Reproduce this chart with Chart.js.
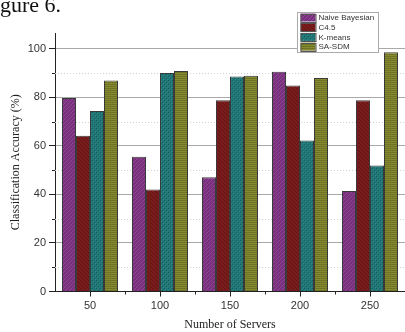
<!DOCTYPE html>
<html>
<head>
<meta charset="utf-8">
<script src="https://cdn.jsdelivr.net/npm/chart.js@4/dist/chart.umd.min.js"></script>
<style>
  html, body { margin: 0; padding: 0; background: #fff; }
  #wrap { position: relative; width: 405px; height: 332px; overflow: hidden; }
  #cap { position: absolute; left: 0; top: -8px; font: 22px "Liberation Serif", "Times New Roman", serif; color: #111; white-space: nowrap; }
  canvas { position: absolute; left: 0; top: 0; }
</style>
</head>
<body>
<div id="wrap">
  <canvas id="c" width="405" height="332"></canvas>
  <div id="cap">gure 6.</div>
</div>
<script>
// Classification accuracy per method and server count
const servers = ['50', '100', '150', '200', '250'];
const methods = ['Naive Bayesian', 'C4.5', 'K-means', 'SA-SDM'];
const naiveBayesian = [79.7, 55.5, 47.1, 90.5, 41.4];
const c45 = [64.2, 42.0, 78.8, 84.9, 78.8];
const kMeans = [74.4, 90.0, 88.6, 62.2, 51.9];
const saSdm = [86.9, 90.8, 88.9, 88.0, 98.6];
const yTicks = [0, 20, 40, 60, 80, 100];
const yMinorTicks = [10, 30, 50, 70, 90];

// Hatched fills for the four bar series
function makePattern(base, kind) {
  const p = document.createElement('canvas');
  const s = kind === 'h' ? 2 : 4;
  p.width = s; p.height = s;
  const g = p.getContext('2d');
  g.fillStyle = base;
  g.fillRect(0, 0, s, s);
  if (kind === 'fwd') {
    g.strokeStyle = 'rgba(255,255,255,0.13)';
    g.lineWidth = 1;
    g.beginPath();
    g.moveTo(0, s); g.lineTo(s, 0);
    g.moveTo(-1, 1); g.lineTo(1, -1);
    g.moveTo(s - 1, s + 1); g.lineTo(s + 1, s - 1);
    g.stroke();
  } else if (kind === 'back') {
    g.strokeStyle = 'rgba(0,0,0,0.22)';
    g.lineWidth = 1;
    g.beginPath();
    g.moveTo(0, 0); g.lineTo(s, s);
    g.moveTo(-1, s - 1); g.lineTo(1, s + 1);
    g.moveTo(s - 1, -1); g.lineTo(s + 1, 1);
    g.stroke();
  } else if (kind === 'dots') {
    g.fillStyle = 'rgba(0,0,0,0.25)';
    g.fillRect(0, 0, 1, 1);
    g.fillRect(2, 2, 1, 1);
    g.fillStyle = 'rgba(255,255,255,0.10)';
    g.fillRect(1, 1, 1, 1);
    g.fillRect(3, 3, 1, 1);
  } else if (kind === 'h') {
    g.fillStyle = 'rgba(0,0,0,0.18)';
    g.fillRect(0, 0, s, 1);
  }
  return g.createPattern(p, 'repeat');
}

const fills = [
  makePattern('#7a2f7f', 'fwd'),
  makePattern('#7a1c1c', 'back'),
  makePattern('#1f7777', 'dots'),
  makePattern('#878b30', 'h')
];
const series = [naiveBayesian, c45, kMeans, saSdm];

// Dotted minor grid, minor tick marks and the boxed legend
const extras = {
  id: 'extras',
  beforeDatasetsDraw(chart) {
    const { ctx, chartArea: a, scales: { y } } = chart;
    ctx.save();
    ctx.strokeStyle = '#cfcfcf';
    ctx.lineWidth = 1;
    ctx.setLineDash([1, 2]);
    yMinorTicks.forEach(v => {
      const py = Math.round(y.getPixelForValue(v)) + 0.5;
      ctx.beginPath(); ctx.moveTo(a.left, py); ctx.lineTo(a.right, py); ctx.stroke();
    });
    ctx.restore();
  },
  afterDraw(chart) {
    const { ctx, chartArea: a, scales: { x, y } } = chart;
    ctx.save();
    ctx.strokeStyle = '#222';
    ctx.lineWidth = 1;
    // minor ticks on y axis
    yMinorTicks.forEach(v => {
      const py = Math.round(y.getPixelForValue(v)) + 0.5;
      ctx.beginPath(); ctx.moveTo(a.left - 3, py); ctx.lineTo(a.left, py); ctx.stroke();
    });
    // minor ticks on x axis at category boundaries
    for (let i = 0; i < servers.length - 1; i++) {
      const px = Math.round((x.getPixelForValue(i) + x.getPixelForValue(i + 1)) / 2) + 0.5;
      ctx.beginPath(); ctx.moveTo(px, a.bottom); ctx.lineTo(px, a.bottom + 3); ctx.stroke();
    }
    // legend box
    const bx = 297.5, by = 12.5, bw = 81, bh = 40;
    ctx.fillStyle = '#fff';
    ctx.fillRect(bx, by, bw, bh);
    ctx.strokeStyle = '#ababab';
    ctx.strokeRect(bx, by, bw, bh);
    ctx.font = '8px "Liberation Sans", Arial, sans-serif';
    ctx.textBaseline = 'middle';
    chart.data.datasets.forEach((ds, i) => {
      const cy = by + 5 + i * 9.7;
      ctx.fillStyle = ds.backgroundColor;
      ctx.fillRect(bx + 3, cy - 4, 15, 8);
      ctx.strokeStyle = '#555';
      ctx.strokeRect(bx + 3.5, Math.round(cy - 4) + 0.5, 15, 8);
      ctx.fillStyle = '#333';
      ctx.fillText(ds.label, bx + 21, cy + 0.5);
    });
    ctx.restore();
  }
};

new Chart(document.getElementById('c'), {
  type: 'bar',
  data: {
    labels: servers,
    datasets: methods.map((m, i) => ({
      label: m,
      data: series[i],
      backgroundColor: fills[i],
      borderColor: '#3a3a3a',
      borderWidth: 1,
      categoryPercentage: 0.8,
      barPercentage: 1.0
    }))
  },
  options: {
    responsive: false,
    animation: false,
    layout: { padding: { top: 33, right: 0, left: 0, bottom: 0 } },
    plugins: { legend: { display: false }, tooltip: { enabled: false } },
    scales: {
      x: {
        grid: { display: true, drawOnChartArea: false, offset: false, tickLength: 5, tickColor: '#222' },
        border: { color: '#222', width: 1 },
        ticks: { color: '#333', font: { family: '"Liberation Sans", Arial, sans-serif', size: 11 }, padding: 3, maxRotation: 0 },
        title: { display: true, text: 'Number of Servers', color: '#222',
                 font: { family: '"Liberation Serif", "Times New Roman", serif', size: 12 }, padding: { top: 4, bottom: 0 } },
        afterFit(s) { s.height = 40.5; }
      },
      y: {
        min: 0, max: 106.5,
        afterBuildTicks(s) { s.ticks = yTicks.map(v => ({ value: v })); },
        grid: {
          color: ctx => (ctx.tick && ctx.tick.value === 0) ? 'rgba(0,0,0,0)' : '#a9a9a9',
          tickColor: '#222', tickLength: 6, lineWidth: 1
        },
        border: { color: '#222', width: 1 },
        ticks: { color: '#333', font: { family: '"Liberation Sans", Arial, sans-serif', size: 11 }, padding: 3 },
        title: { display: true, text: 'Classification Accuracy (%)', color: '#222',
                 font: { family: '"Liberation Serif", "Times New Roman", serif', size: 12 }, padding: { top: 9, bottom: 4 } },
        afterFit(s) { s.width = 55; }
      }
    }
  },
  plugins: [extras]
});
</script>
</body>
</html>
